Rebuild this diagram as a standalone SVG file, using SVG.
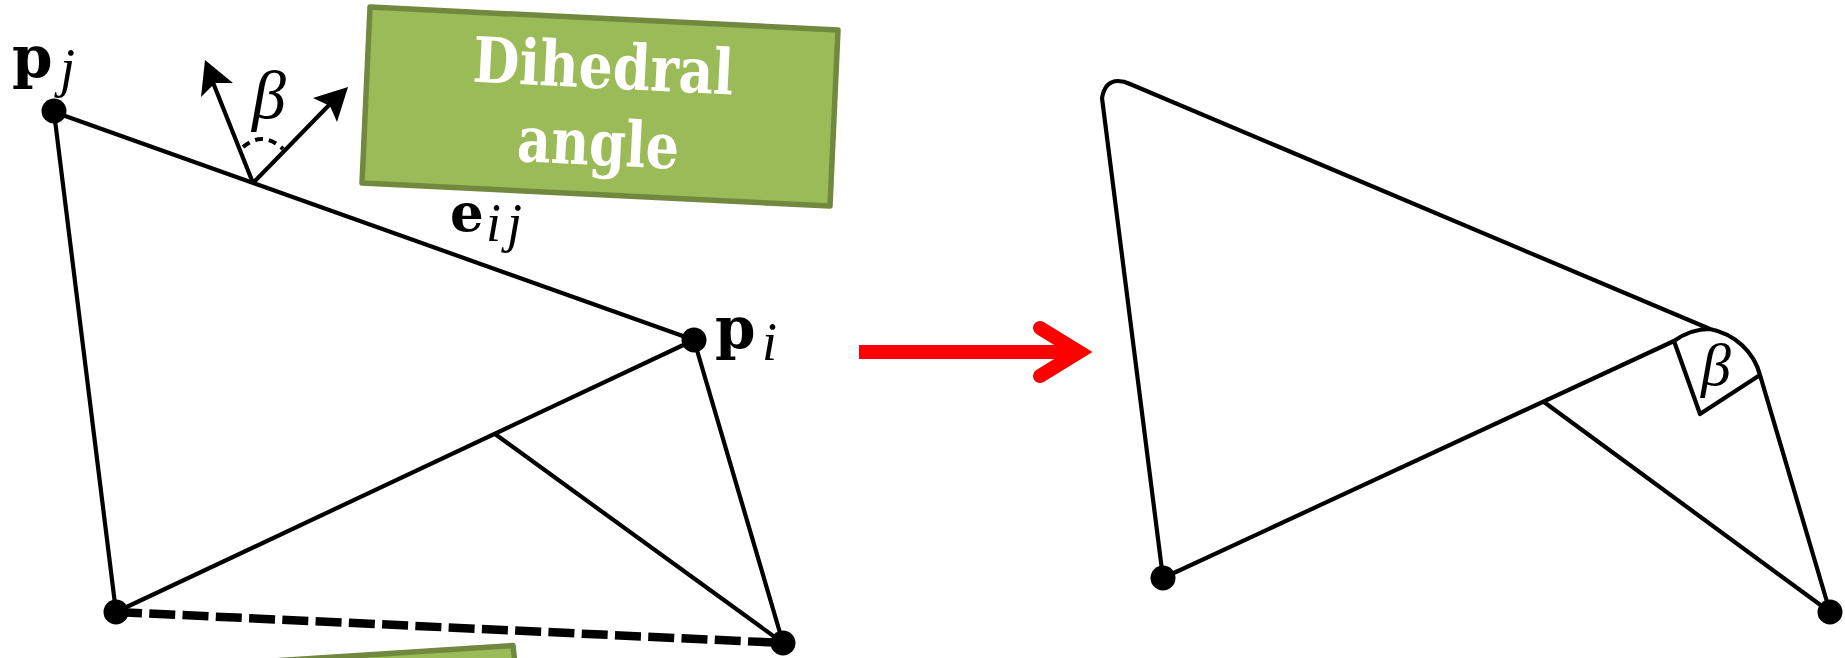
<svg xmlns="http://www.w3.org/2000/svg" width="1845" height="658" viewBox="0 0 1845 658">
<style>
.l{fill:none;stroke:#000;stroke-width:4.2;stroke-linejoin:round}
.d{fill:#000}
.b{fill:#9BBB59;stroke:#71893F;stroke-width:5.5;stroke-linejoin:round}
.t{font-family:"DejaVu Serif",serif;font-weight:700;font-size:63px;fill:#fff}
.m{font-family:"DejaVu Serif",serif;fill:#000}
.p{font-weight:700;font-size:58px}
.s{font-family:"Liberation Serif",serif;font-style:italic;font-size:54px}
.g{font-family:"Liberation Serif",serif;font-style:italic;font-size:68px}
</style>
<rect width="1845" height="658" fill="#fff"/>
<g id="connectors">
<path class="l" d="M54 112L116 612L694 340L54 112M495 434L783 643L694 340"/>
<path d="M116 612L783 643" fill="none" stroke="#000" stroke-width="8.5" stroke-dasharray="26 7.3"/>
<path class="l" d="M253 183L212 80M253 183L333 101"/>
<path d="M205 60L201 97L215 83L233 83Z" class="d"/>
<path d="M348 87L313 98L330 106L337 122Z" class="d"/>
<path d="M243 147Q263 130 283 149" fill="none" stroke="#000" stroke-width="4" stroke-dasharray="8 6"/>
<path class="l" d="M1163 578L1102 98Q1105 81 1118 81Q1124 81 1130 84L1710 329C1735 334 1754 352 1760 375L1830 612M1163 578L1674 341C1685 333 1697 329 1710 329M1544 402L1830 612M1674 341L1700 414L1760 375"/>
<path d="M859 352H1073" fill="none" stroke="#f00" stroke-width="14"/>
<path d="M1040 328L1079 352L1040 376" fill="none" stroke="#f00" stroke-width="14" stroke-linecap="round"/>
<path d="M1067 337L1092 352L1067 367Z" fill="#f00"/>
</g>
<g id="node-pj"><circle class="d" cx="54" cy="111" r="12.5"/>
<text class="m p" x="12" y="77">p</text><text class="m s" x="60" y="86">j</text></g>
<g id="node-pi"><circle class="d" cx="694" cy="340" r="12.5"/>
<text class="m p" x="715" y="348">p</text><text class="m s" x="762" y="360">i</text></g>
<g id="node-bl"><circle class="d" cx="116" cy="612" r="12.5"/></g>
<g id="node-br"><circle class="d" cx="783" cy="643" r="12.5"/></g>
<g id="node-r-bl"><circle class="d" cx="1163" cy="578" r="12.5"/></g>
<g id="node-r-br"><circle class="d" cx="1830" cy="612" r="12.5"/></g>
<g id="label-eij"><text class="m p" x="450" y="231" style="font-size:53px">e</text><text class="m s" x="486" y="241" letter-spacing="6">ij</text></g>
<g id="label-beta-left"><text class="m g" x="252" y="118">β</text></g>
<g id="label-beta-right"><text class="m g" x="1701" y="385" style="font-size:60px">β</text></g>
<g id="box-dihedral">
<polygon class="b" points="370,7 838,30 830,206 362,183"/>
<g transform="rotate(2.8 600 106)"><text class="t" x="471" y="88" textLength="261" lengthAdjust="spacingAndGlyphs">Dihedral</text><text class="t" x="519" y="165" textLength="162" lengthAdjust="spacingAndGlyphs">angle</text></g>
</g>
<g id="box-lower">
<polygon class="b" points="513,645.5 132,670 519,700"/>
</g>
</svg>
